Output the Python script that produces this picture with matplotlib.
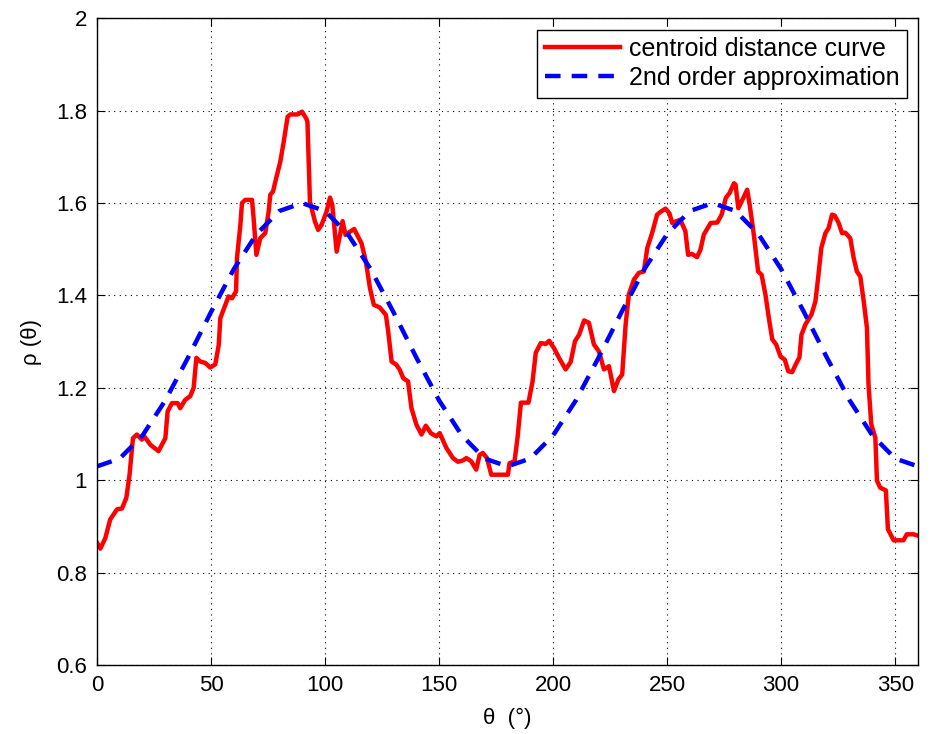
import matplotlib.pyplot as plt
import numpy as np

plt.rcParams['font.family'] = ['Liberation Sans', 'DejaVu Sans']

# centroid distance curve (deg, rho)
theta = [0, 1.5, 3.7, 5.8, 8.8, 11, 12.9, 14.3, 15.8, 17.5, 19.7, 20.8, 23.4, 27, 30, 31,
         32.9, 35.4, 36.5, 38.7, 40.9, 42.4, 43.6, 45.3, 47.5, 49.7, 51.9, 53.4, 54.1, 56,
         57.7, 59.2, 61, 61.4, 62.9, 63.6, 65, 68, 68.7, 69.9, 71.6, 73.8, 75.3, 76, 77.2,
         78.2, 80.4, 81.9, 83.6, 84.8, 88, 89.9, 91.8, 92.3, 93.4, 95.6, 97, 98.5, 100.7,
         102.2, 103.2, 105.1, 106.6, 107.7, 109, 110.9, 112.8, 114.1, 116, 117.9, 119.7,
         121.4, 124, 126.7, 127.7, 129.2, 131.3, 132.8, 134.3, 136.4, 137.9, 140.1, 142.3,
         144.2, 146.4, 148.8, 150.3, 153.2, 156.1, 158.3, 160.5, 162, 164.1, 166.3, 167.8,
         169.2, 171, 172.9, 178, 180.2, 180.9, 183.1, 184.4, 185.9, 189.2, 191, 192.4,
         194.6, 196.8, 198.3, 200.4, 202.6, 205.5, 207.7, 209.6, 211.4, 213.6, 215.7,
         217.9, 220.1, 222.3, 224.5, 226.7, 228.6, 230.3, 231.8, 233.2, 235.4, 237.6,
         239.8, 241.3, 243.4, 245.6, 247.1, 249.3, 251, 252.2, 253.6, 255.8, 258, 259.2,
         260.9, 263.1, 264.6, 266.1, 269.1, 272, 273.9, 275.7, 277.4, 279.3, 280, 281.2,
         282.7, 285.1, 286.2, 288, 289.9, 291.4, 293.1, 294.6, 296.1, 297.8, 299.7, 301.6,
         303.1, 304.8, 306.3, 308, 308.9, 310.6, 313.3, 315, 316.2, 317.6, 319.4, 320.8,
         322.3, 323.5, 325.2, 326.7, 328.1, 330.3, 331.8, 333.2, 334.7, 336.2, 337.6,
         338.3, 339.5, 341.3, 342, 343.4, 345.9, 346.8, 349.3, 353.6, 355.1, 358, 360]
rho = [0.865, 0.852, 0.875, 0.915, 0.937, 0.939, 0.962, 1.012, 1.091, 1.099, 1.088, 1.095,
       1.077, 1.063, 1.091, 1.149, 1.167, 1.167, 1.156, 1.174, 1.182, 1.2, 1.265, 1.257,
       1.254, 1.244, 1.251, 1.293, 1.351, 1.376, 1.398, 1.394, 1.409, 1.481, 1.553, 1.6,
       1.607, 1.607, 1.567, 1.488, 1.524, 1.535, 1.582, 1.618, 1.625, 1.646, 1.69, 1.733,
       1.787, 1.792, 1.792, 1.798, 1.783, 1.776, 1.603, 1.56, 1.542, 1.553, 1.582, 1.612,
       1.596, 1.495, 1.532, 1.561, 1.531, 1.538, 1.544, 1.531, 1.513, 1.474, 1.416, 1.38,
       1.374, 1.358, 1.322, 1.257, 1.25, 1.239, 1.221, 1.214, 1.156, 1.12, 1.099, 1.118,
       1.102, 1.095, 1.102, 1.07, 1.048, 1.04, 1.043, 1.048, 1.041, 1.023, 1.055, 1.059,
       1.048, 1.012, 1.012, 1.012, 1.037, 1.041, 1.092, 1.168, 1.168, 1.214, 1.276, 1.297,
       1.295, 1.302, 1.286, 1.265, 1.24, 1.256, 1.301, 1.315, 1.346, 1.341, 1.294, 1.279,
       1.24, 1.247, 1.193, 1.218, 1.229, 1.337, 1.402, 1.434, 1.449, 1.452, 1.503, 1.535,
       1.575, 1.581, 1.588, 1.578, 1.557, 1.56, 1.564, 1.539, 1.488, 1.49, 1.483, 1.499,
       1.532, 1.557, 1.558, 1.575, 1.611, 1.622, 1.643, 1.64, 1.589, 1.604, 1.629, 1.596,
       1.532, 1.452, 1.445, 1.402, 1.351, 1.305, 1.294, 1.268, 1.261, 1.236, 1.234, 1.25,
       1.266, 1.315, 1.337, 1.359, 1.387, 1.438, 1.503, 1.535, 1.546, 1.575, 1.573, 1.557,
       1.535, 1.536, 1.524, 1.481, 1.452, 1.441, 1.387, 1.33, 1.207, 1.121, 1.092, 0.999,
       0.984, 0.978, 0.894, 0.87, 0.87, 0.883, 0.883, 0.88]

# 2nd order approximation, sampled every 10 deg
theta_fit = [0, 10, 20, 30, 40, 50, 60, 70, 80, 90, 100, 110, 120, 130, 140, 150, 160, 170,
             180, 190, 200, 210, 220, 230, 240, 250, 260, 270, 280, 290, 300, 310, 320, 330,
             340, 350, 360]
rho_fit = [1.030, 1.047, 1.097, 1.173, 1.266, 1.364, 1.457, 1.533, 1.583, 1.600, 1.583,
           1.533, 1.457, 1.364, 1.266, 1.173, 1.097, 1.047, 1.030, 1.047, 1.097, 1.173,
           1.266, 1.364, 1.457, 1.533, 1.583, 1.600, 1.583, 1.533, 1.457, 1.364, 1.266,
           1.173, 1.097, 1.047, 1.030]

yticks = [0.6, 0.8, 1.0, 1.2, 1.4, 1.6, 1.8, 2.0]
ytick_labels = ['0.6', '0.8', '1', '1.2', '1.4', '1.6', '1.8', '2']

fig = plt.figure(figsize=(9.32, 7.34), dpi=100)
ax = fig.add_axes([0.104, 0.094, 0.881, 0.881])

ax.plot(theta, rho, color='red', lw=3.2, label='centroid distance curve')
ax.plot(theta_fit, rho_fit, color='blue', lw=3.2, ls=(0, (3.5, 2.5)),
        label='2nd order approximation')

ax.set_xlim(0, 360)
ax.set_ylim(0.6, 2)
ax.set_xticks(range(0, 360, 50))
ax.set_yticks(yticks)
ax.set_yticklabels(ytick_labels)
ax.tick_params(direction='in', top=True, right=True, labelsize=16, length=6, pad=7)
ax.grid(True, color='black', ls=(0, (1, 4)), lw=0.8)
for s in ax.spines.values():
    s.set_linewidth(1.0)

ax.set_xlabel('θ  (°)', fontsize=16, labelpad=9)
ax.set_ylabel('ρ (θ)', fontsize=16, labelpad=10)

leg = ax.legend(loc='upper right', fontsize=18, fancybox=False, framealpha=1,
                edgecolor='black', handlelength=3, borderaxespad=0.45,
                borderpad=0.3, labelspacing=0.2, handletextpad=0.35)
leg.get_frame().set_linewidth(1.0)

fig.savefig('out.png', dpi=100)
